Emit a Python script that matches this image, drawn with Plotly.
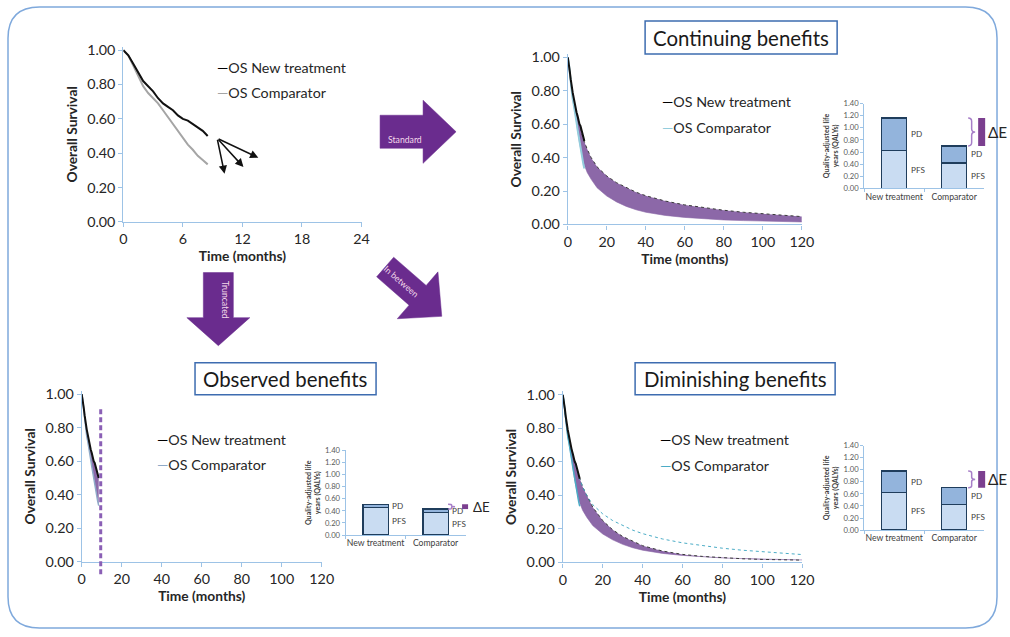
import math
import plotly.graph_objects as go

W, H = 1010, 637
# measured mapping of the photographed page: screen = S * page + B
SX, BX = 0.984, 4.0
SY, BY = 0.976, 7.0
FS = 1.0 / 0.98  # font compensation

# ---------------- data ----------------
km_time = [0, 0.5, 1, 1.5, 2, 2.5, 3, 3.5, 4, 4.5, 5, 5.5, 6, 6.5, 7, 7.5, 8, 8.5]
km_new = [1.00, 0.97, 0.92, 0.87, 0.82, 0.79, 0.76, 0.72, 0.69, 0.67, 0.65, 0.62, 0.60, 0.59, 0.57, 0.55, 0.53, 0.50]
km_comp = [1.00, 0.97, 0.91, 0.85, 0.79, 0.75, 0.72, 0.69, 0.65, 0.61, 0.57, 0.53, 0.49, 0.45, 0.42, 0.385, 0.36, 0.335]

ext_time = [0, 2, 4, 6, 8, 10, 12, 15, 20, 25, 30, 35, 40, 50, 60, 70, 80, 90, 100, 110, 120]
ext_new_continuing = [1.0, 0.82, 0.69, 0.60, 0.51, 0.45, 0.40, 0.345, 0.29, 0.25, 0.22, 0.193, 0.172, 0.14, 0.117,
                      0.099, 0.085, 0.073, 0.063, 0.055, 0.047]
ext_new_diminishing = [1.0, 0.82, 0.69, 0.60, 0.52, 0.45, 0.40, 0.33, 0.25, 0.195, 0.155, 0.125, 0.10, 0.068, 0.048,
                       0.036, 0.028, 0.022, 0.018, 0.016, 0.014]
ext_comp = [1.0, 0.79, 0.65, 0.49, 0.37, 0.31, 0.27, 0.22, 0.17, 0.135, 0.108, 0.088, 0.073, 0.054, 0.042,
            0.033, 0.027, 0.023, 0.019, 0.017, 0.015]
trial_cutoff_month = 9.5

arrow_tail = (9.45, 0.487)
arrow_tips = [(10.2, 0.28), (12.1, 0.32), (13.6, 0.374)]

bar_categories = ["New treatment", "Comparator"]
cont_pfs = [0.62, 0.42]
cont_total = [1.16, 0.70]
obs_pfs = [0.46, 0.37]
obs_total = [0.51, 0.43]
dim_pfs = [0.62, 0.42]
dim_total = [0.98, 0.70]

short_xticks = [0, 6, 12, 18, 24]
long_xticks = [0, 20, 40, 60, 80, 100, 120]
surv_ticks = [0, 0.2, 0.4, 0.6, 0.8, 1.0]
qaly_ticks = [0, 0.2, 0.4, 0.6, 0.8, 1.0, 1.2, 1.4]

# ---------------- style ----------------
F = "Lato"
TXT = "#262626"
AX = "#9dc3e6"
PURPLE_BAND = "#8c68a8"
ARROW = "#6a2c8e"
PFS_C = "#c9dcf2"
PD_C = "#93b4dc"
BAR_LINE = "#1f3d5c"


def px_x(p):
    return (p - BX) / SX


def px_y(p):
    return (p - BY) / SY


def X(p):
    return px_x(p) / W


def Y(p):
    return 1 - px_y(p) / H


def ydom(p0, p1, ymax):
    top = p0 - ymax * (p0 - p1)
    return [Y(p0), Y(top)]


def fs(s):
    return round(s * FS, 2)


fig = go.Figure()


def line(x, y, xa, ya, color, width, dash=None, fill=None, fillcolor=None):
    fig.add_trace(go.Scatter(x=x, y=y, mode="lines", xaxis=xa, yaxis=ya,
                             line=dict(color=color, width=width, dash=dash),
                             fill=fill, fillcolor=fillcolor, hoverinfo="skip"))


# panel 1: observed KM
line(km_time, km_comp, "x", "y", "#a5a5a5", 2)
line(km_time, km_new, "x", "y", "#111111", 2)

# panel 2: continuing
line(ext_time, ext_comp, "x2", "y2", PURPLE_BAND, 0.6)
line(ext_time, ext_new_continuing, "x2", "y2", "#3a3a3a", 1, dash="dot", fill="tonexty", fillcolor=PURPLE_BAND)
line(km_time, km_comp, "x2", "y2", "#93cddd", 2)
line(km_time, km_new, "x2", "y2", "#111111", 2)

# panel 3: observed (truncated)
line(km_time, km_comp, "x4", "y4", "#8faac8", 1.5)
line(km_time, km_new, "x4", "y4", "#111111", 2, fill="tonexty", fillcolor=PURPLE_BAND)

# panel 4: diminishing
line(ext_time, ext_comp, "x6", "y6", PURPLE_BAND, 0.6)
line(ext_time, ext_new_diminishing, "x6", "y6", "#3a3a3a", 1, dash="dot", fill="tonexty", fillcolor=PURPLE_BAND)
line(ext_time, ext_new_continuing, "x6", "y6", "#4bacc6", 1, dash="dot")
line(km_time, km_comp, "x6", "y6", "#4bacc6", 1.5)
line(km_time, km_new, "x6", "y6", "#111111", 2)


# bars
def bars(pfs, total, xa, ya):
    pd_vals = [t - p for t, p in zip(total, pfs)]
    fig.add_trace(go.Bar(x=bar_categories, y=pfs, xaxis=xa, yaxis=ya, width=0.42,
                         marker=dict(color=PFS_C, line=dict(color=BAR_LINE, width=1.3)), hoverinfo="skip"))
    fig.add_trace(go.Bar(x=bar_categories, y=pd_vals, xaxis=xa, yaxis=ya, width=0.42,
                         marker=dict(color=PD_C, line=dict(color=BAR_LINE, width=1.3)), hoverinfo="skip"))


bars(cont_pfs, cont_total, "x3", "y3")
bars(obs_pfs, obs_total, "x5", "y5")
bars(dim_pfs, dim_total, "x7", "y7")

# ---------------- axes ----------------
tick_font = dict(family=F, size=fs(14), color=TXT)
title_font = dict(family=F, size=fs(13.5), color=TXT, weight="bold")


def km_axes(n, xpx, p0, p1, xr, xticks):
    xs = "" if n == 1 else str(n)
    xa = dict(domain=[X(xpx[0]), X(xpx[1])], range=xr, tickvals=xticks, anchor="y" + xs,
              showline=True, linecolor=AX, linewidth=1.2, ticks="outside", ticklen=4, tickcolor=AX,
              showgrid=False, zeroline=False, tickfont=tick_font,
              title=dict(text="Time (months)", font=title_font, standoff=0))
    ya = dict(domain=ydom(p0, p1, 1.02), range=[0, 1.02], tickvals=surv_ticks, tickformat=".2f",
              anchor="x" + xs, showline=True, linecolor=AX, linewidth=1.2, ticks="outside", ticklen=4,
              tickcolor=AX, showgrid=False, zeroline=False, tickfont=tick_font,
              title=dict(text="Overall Survival", font=title_font, standoff=6))
    return xa, ya


def bar_axes(n, xpx, p0, p14):
    xs = str(n)
    xa = dict(domain=[X(xpx[0]), X(xpx[1])], range=[-0.5, 1.5], anchor="y" + xs, type="category",
              showline=True, linecolor=AX, linewidth=1, ticks="outside", tickson="boundaries", ticklen=3,
              tickcolor=AX, showgrid=False, zeroline=False, tickangle=0, automargin=False,
              tickfont=dict(family=F, size=fs(8.5), color="#404040"))
    ya = dict(domain=[Y(p0), Y(p14)], range=[0, 1.4], tickvals=qaly_ticks, tickformat=".2f", anchor="x" + xs,
              showline=True, linecolor=AX, linewidth=1, ticks="outside", ticklen=3, tickcolor=AX,
              showgrid=False, zeroline=False, tickfont=dict(family=F, size=fs(7.5), color="#595959"),
              title=dict(text="Quality-adjusted life<br>years (QALYs)", standoff=3,
                         font=dict(family=F, size=fs(7), color="#404040", weight="bold")))
    return xa, ya


axes = {}
axes["xaxis"], axes["yaxis"] = km_axes(1, (123.3, 361.5), 222.5, 51, [0, 24], short_xticks)
axes["xaxis2"], axes["yaxis2"] = km_axes(2, (567.7, 801.7), 225, 58.3, [0, 120], long_xticks)
axes["xaxis4"], axes["yaxis4"] = km_axes(4, (81.7, 321.7), 561.7, 394.3, [0, 120], long_xticks)
axes["xaxis6"], axes["yaxis6"] = km_axes(6, (562.7, 802), 562.3, 395, [0, 120], long_xticks)
axes["xaxis3"], axes["yaxis3"] = bar_axes(3, (864, 984), 189, 104.3)
axes["xaxis5"], axes["yaxis5"] = bar_axes(5, (345.5, 465.5), 535, 450.5)
axes["xaxis7"], axes["yaxis7"] = bar_axes(7, (864, 984), 530, 445.7)

shapes = []
annotations = []

# outer rounded border (page pixels, kept inside the figure)
bx0 = max(1.0, px_x(8))
by0 = max(1.0, px_y(5))
bx1 = min(W - 1.0, px_x(1005))
by1 = min(H - 1.0, px_y(633))
r = 32


def PX(p):
    return p / W


def PY(p):
    return 1 - p / H


pts = (f"M{PX(bx0 + r)},{PY(by0)} L{PX(bx1 - r)},{PY(by0)} Q{PX(bx1)},{PY(by0)} {PX(bx1)},{PY(by0 + r)} "
       f"L{PX(bx1)},{PY(by1 - r)} Q{PX(bx1)},{PY(by1)} {PX(bx1 - r)},{PY(by1)} L{PX(bx0 + r)},{PY(by1)} "
       f"Q{PX(bx0)},{PY(by1)} {PX(bx0)},{PY(by1 - r)} L{PX(bx0)},{PY(by0 + r)} Q{PX(bx0)},{PY(by0)} "
       f"{PX(bx0 + r)},{PY(by0)} Z")
shapes.append(dict(type="path", path=pts, xref="paper", yref="paper", line=dict(color="#7fa9dc", width=1.5),
                   layer="below"))

# title boxes
for text, (x0, y0, x1, y1) in [("Continuing benefits", (645, 22, 837, 55)),
                               ("Observed benefits", (195, 363, 376, 395)),
                               ("Diminishing benefits", (635, 363, 835, 395))]:
    shapes.append(dict(type="rect", xref="paper", yref="paper", x0=X(x0), x1=X(x1), y0=Y(y1), y1=Y(y0),
                       line=dict(color="#3d6cb0", width=1.5), fillcolor="white"))
    annotations.append(dict(text=text, xref="paper", yref="paper", x=X((x0 + x1) / 2), y=Y((y0 + y1) / 2),
                            showarrow=False, xanchor="center", yanchor="middle",
                            font=dict(family=F, size=fs(20), color="#1a1a1a")))

# legends
legend_specs = [((215, 68, 93), "#a5a5a5"), ((660, 102, 128), "#93cddd"),
                ((155, 440, 465), "#8faac8"), ((658, 440, 466), "#4bacc6")]
for (lx, ly1, ly2), ccol in legend_specs:
    annotations.append(dict(text="<span style='color:#000000'>—</span>OS New treatment", xref="paper",
                            yref="paper", x=X(lx), y=Y(ly1), showarrow=False, xanchor="left",
                            yanchor="middle", font=dict(family=F, size=fs(14), color=TXT)))
    annotations.append(dict(text=f"<span style='color:{ccol}'>—</span>OS Comparator", xref="paper",
                            yref="paper", x=X(lx), y=Y(ly2), showarrow=False, xanchor="left",
                            yanchor="middle", font=dict(family=F, size=fs(14), color=TXT)))

# panel-1 arrows
for tx, ty in arrow_tips:
    annotations.append(dict(x=tx, y=ty, ax=arrow_tail[0], ay=arrow_tail[1], xref="x", yref="y",
                            axref="x", ayref="y", showarrow=True, arrowhead=2, arrowsize=1.1,
                            arrowwidth=1.5, arrowcolor="#111111", text=""))

# truncation line
shapes.append(dict(type="line", xref="x4", yref="paper", x0=trial_cutoff_month, x1=trial_cutoff_month,
                   y0=Y(574), y1=Y(407), line=dict(color="#8a5fb5", width=3, dash="5px,3px")))

# bar labels and delta-E
bar_sets = [("x3", "y3", cont_pfs, cont_total, (968, 975), (978, 985), 997, 15),
            ("x5", "y5", obs_pfs, obs_total, (448, 455), (462, 468), 481, 13),
            ("x7", "y7", dim_pfs, dim_total, (968, 975), (978, 985), 997, 15)]
for xa, ya, pfs, tot, brace_px, rect_px, dtx, dfs in bar_sets:
    for cat, p, t in zip(bar_categories, pfs, tot):
        annotations.append(dict(text="PD", x=cat, y=(p + t) / 2, xref=xa, yref=ya, xshift=22.4,
                                showarrow=False, font=dict(family=F, size=fs(8), color="#404040")))
        annotations.append(dict(text="PFS", x=cat, y=p / 2, xref=xa, yref=ya, xshift=23.4,
                                showarrow=False, font=dict(family=F, size=fs(8), color="#404040")))
    lo, hi = tot[1], tot[0]
    mid = (lo + hi) / 2
    rr = (hi - lo) * 0.12
    xl, xr_ = X(brace_px[0]), X(brace_px[1])
    xm = (xl + xr_) / 2
    bpath = (f"M{xl},{hi} Q{xm},{hi} {xm},{hi - rr} L{xm},{mid + rr} Q{xm},{mid} {xr_},{mid} "
             f"Q{xm},{mid} {xm},{mid - rr} L{xm},{lo + rr} Q{xm},{lo} {xl},{lo}")
    shapes.append(dict(type="path", path=bpath, xref="paper", yref=ya, line=dict(color="#a77fc8", width=1.5)))
    shapes.append(dict(type="rect", xref="paper", yref=ya, x0=X(rect_px[0]), x1=X(rect_px[1]), y0=lo, y1=hi,
                       fillcolor="#7b3f8f", line=dict(width=0)))
    annotations.append(dict(text="ΔE", xref="paper", yref=ya, x=X(dtx), y=mid, showarrow=False,
                            xanchor="center", yanchor="middle", font=dict(family=F, size=fs(dfs), color=TXT)))


# block arrows
def block_arrow(tail, tip, body_hw, head_hw, head_len):
    dx, dy = tip[0] - tail[0], tip[1] - tail[1]
    L = math.hypot(dx, dy)
    ux, uy = dx / L, dy / L
    nx, ny = -uy, ux
    bx, by = tip[0] - ux * head_len, tip[1] - uy * head_len
    p = [(tail[0] + nx * body_hw, tail[1] + ny * body_hw), (bx + nx * body_hw, by + ny * body_hw),
         (bx + nx * head_hw, by + ny * head_hw), tip, (bx - nx * head_hw, by - ny * head_hw),
         (bx - nx * body_hw, by - ny * body_hw), (tail[0] - nx * body_hw, tail[1] - ny * body_hw)]
    return "M" + " L".join(f"{X(a)},{Y(b)}" for a, b in p) + " Z"


ang = math.radians(41)
ib_tip = (441.7, 316.7)
ib_tail = (ib_tip[0] - 75 * math.cos(ang), ib_tip[1] - 75 * math.sin(ang))
for tail, tip, bhw, hhw, hl in [((380, 132.5), (456, 132.5), 16.5, 31.5, 33),
                                ((218.3, 273), (218.3, 346), 15, 31.5, 28),
                                (ib_tail, ib_tip, 13, 31, 32)]:
    shapes.append(dict(type="path", path=block_arrow(tail, tip, bhw, hhw, hl), xref="paper", yref="paper",
                       fillcolor=ARROW, line=dict(color=ARROW, width=0.5)))

arrow_text_font = dict(family=F, size=fs(8.5), color="#f4d9ea")
annotations.append(dict(text="Standard", xref="paper", yref="paper", x=X(405), y=Y(132.5), showarrow=False,
                        font=arrow_text_font))
annotations.append(dict(text="Truncated", xref="paper", yref="paper", x=X(218.3), y=Y(300), showarrow=False,
                        textangle=90, font=arrow_text_font))
annotations.append(dict(text="In between", xref="paper", yref="paper",
                        x=X(ib_tail[0] + 22 * math.cos(ang)), y=Y(ib_tail[1] + 22 * math.sin(ang)),
                        showarrow=False, textangle=41, font=arrow_text_font))

fig.update_layout(width=W, height=H, autosize=False, margin=dict(l=0, r=0, t=0, b=0),
                  paper_bgcolor="white", plot_bgcolor="white", showlegend=False, barmode="stack",
                  font=dict(family=F, color=TXT), shapes=shapes, annotations=annotations, **axes)

fig.write_html("out.html", config={"displayModeBar": False},
               post_script="document.body.style.margin='0';document.body.style.overflow='hidden';")
